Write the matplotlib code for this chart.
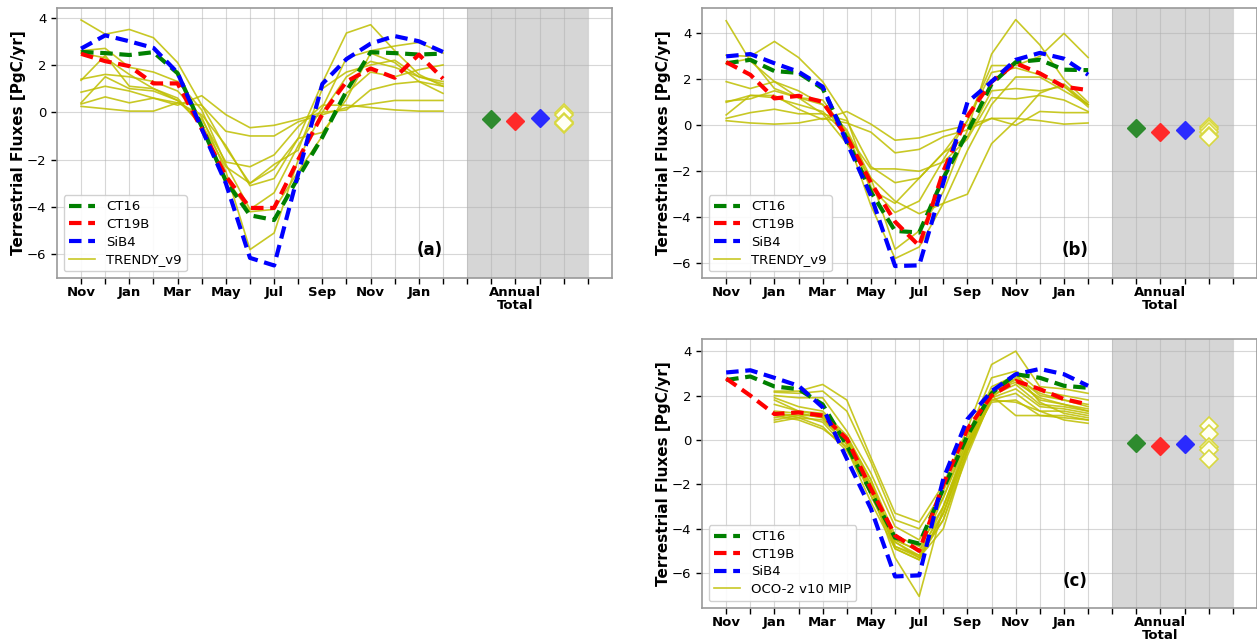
import numpy as np
import matplotlib
matplotlib.use("Agg")
import matplotlib.pyplot as plt

nan = np.nan
months = np.arange(16)
tick_labels = ['Nov', '', 'Jan', '', 'Mar', '', 'May', '', 'Jul', '', 'Sep', '',
               'Nov', '', 'Jan', '', '', '', 'Annual\nTotal', '', '', '']

# ---- panel (a) ----
ct16_a = [2.55, 2.5, 2.42, 2.54, 1.65, -0.6, -2.9, -4.35, -4.55, -2.75, -1.05, 0.9, 2.54, 2.5, 2.44, 2.48]
ct19b_a = [2.47, 2.16, 1.95, 1.22, 1.22, -0.7, -2.7, -4.04, -4.04, -2.0, -0.08, 1.3, 1.85, 1.46, 2.44, 1.42]
sib4_a = [2.69, 3.25, 3.0, 2.72, 1.67, -0.7, -3.0, -6.15, -6.47, -2.6, 1.2, 2.25, 2.9, 3.22, 3.0, 2.55]
trendy_a = [
    [3.9, 3.3, 3.5, 3.15, 2.1, 0.3, -1.5, -3.0, -2.4, -1.1, 1.25, 3.35, 3.7, 2.6, 1.6, 1.1],
    [2.6, 2.7, 1.9, 1.7, 1.3, 0.1, -2.2, -4.1, -3.4, -1.4, 0.2, 2.3, 2.6, 2.8, 2.95, 2.5],
    [1.4, 1.6, 1.5, 1.3, 0.9, -0.2, -2.5, -5.8, -5.1, -2.0, 0.0, 1.5, 2.15, 1.9, 1.5, 1.2],
    [1.35, 2.4, 1.1, 1.0, 0.6, -0.6, -2.8, -4.2, -4.1, -2.5, -1.0, 0.8, 1.7, 1.5, 1.8, 2.0],
    [0.85, 1.1, 0.9, 0.6, 0.4, -0.1, -1.4, -3.1, -2.8, -1.1, -0.85, 0.55, 2.5, 2.1, 1.3, 0.8],
    [0.35, 0.65, 0.4, 0.6, 0.3, 0.7, -0.1, -0.65, -0.55, -0.3, 0.0, 0.1, 0.95, 1.2, 1.3, 1.1],
    [0.25, 0.15, 0.05, 0.05, 0.4, 0.3, -0.8, -1.0, -1.0, -0.4, -0.1, 0.2, 0.35, 0.5, 0.5, 0.5],
    [0.4, 1.5, 1.0, 0.9, 0.5, -0.3, -2.1, -2.3, -1.8, -0.6, 0.3, 0.3, 0.2, 0.1, 0.05, 0.05],
    [2.5, 2.3, 1.6, 1.0, 0.5, -0.5, -2.3, -3.0, -2.2, -1.6, 1.0, 1.7, 2.0, 2.2, 1.5, 1.3],
]
annual_a = [-0.27, -0.36, -0.22]
annual_models_a = [-0.05, -0.1, -0.4, -0.5, -0.45]

# ---- panel (b) ----
ct16_b = [2.7, 2.85, 2.36, 2.28, 1.6, -0.6, -2.9, -4.6, -4.67, -2.3, -0.3, 1.8, 2.75, 2.85, 2.42, 2.4]
ct19b_b = [2.75, 2.2, 1.17, 1.28, 1.02, -0.5, -2.5, -4.2, -5.25, -2.0, 0.4, 1.9, 2.7, 2.26, 1.68, 1.53]
sib4_b = [3.0, 3.1, 2.7, 2.33, 1.68, -0.75, -3.07, -6.13, -6.1, -2.5, 1.0, 1.9, 2.85, 3.15, 2.9, 2.2]
trendy_b = [
    [4.55, 2.8, 1.9, 1.5, 0.9, -0.2, -2.3, -5.4, -4.6, -2.9, -0.2, 3.1, 4.6, 3.5, 2.0, 1.0],
    [3.05, 3.0, 3.65, 2.95, 1.9, 0.3, -2.7, -3.8, -3.3, -1.5, 0.2, 2.6, 2.6, 3.0, 4.0, 2.95],
    [1.9, 1.6, 1.9, 1.2, 0.9, -0.5, -3.5, -5.8, -5.3, -3.4, -1.1, 0.9, 2.1, 2.1, 1.5, 0.9],
    [1.05, 1.15, 1.5, 1.2, 0.5, 0.2, -1.8, -2.5, -2.3, -1.2, -0.5, 1.5, 1.6, 1.5, 1.7, 0.8],
    [0.45, 1.3, 1.3, 0.7, 0.25, 0.6, 0.05, -0.65, -0.55, -0.25, 0.0, 0.3, 0.3, 0.2, 0.05, 0.1],
    [0.3, 0.55, 0.7, 0.5, 0.5, -0.8, -2.3, -3.3, -3.85, -3.4, -3.0, -0.8, 0.2, 1.4, 1.8, 0.9],
    [0.2, 0.1, 0.05, 0.1, 0.3, 0.1, -0.3, -1.2, -1.05, -0.5, -0.2, 0.3, 0.0, 0.6, 0.55, 0.55],
    [2.7, 2.9, 1.6, 1.2, 1.1, -0.3, -2.8, -3.4, -2.3, -1.2, 0.2, 2.3, 2.5, 2.2, 1.7, 0.9],
    [1.0, 1.3, 1.2, 0.9, 0.6, -0.4, -1.9, -1.9, -2.0, -1.6, -0.6, 1.2, 1.15, 1.3, 1.1, 0.6],
]
annual_b = [-0.1, -0.28, -0.2]
annual_models_b = [-0.06, -0.15, -0.28, -0.45, -0.5]

# ---- panel (c) ----
ct16_c = [2.7, 2.86, 2.41, 2.29, 1.6, -0.25, -2.35, -4.4, -4.67, -2.2, 0.2, 2.1, 2.96, 2.8, 2.44, 2.35]
ct19b_c = [2.77, 2.0, 1.17, 1.24, 1.1, 0.05, -2.2, -4.3, -5.0, -2.0, 0.5, 2.0, 2.66, 2.29, 1.84, 1.6]
sib4_c = [3.04, 3.14, 2.8, 2.44, 1.47, -0.85, -3.1, -6.15, -6.1, -1.75, 0.94, 2.2, 2.96, 3.2, 2.96, 2.44]
oco2_c = [
    [nan, nan, 2.2, 2.2, 2.5, 1.8, -0.8, -3.3, -3.7, -2.0, 0.5, 3.4, 4.0, 2.4, 2.3, 2.1],
    [nan, nan, 2.15, 2.1, 2.2, 1.3, -1.0, -3.6, -4.0, -2.3, 0.2, 2.8, 3.1, 2.2, 2.0, 1.8],
    [nan, nan, 2.0, 1.9, 1.9, 0.4, -1.5, -3.9, -4.5, -2.6, 0.0, 2.4, 2.9, 2.0, 1.8, 1.6],
    [nan, nan, 1.9, 1.5, 1.3, 0.2, -1.8, -4.3, -4.8, -3.0, -0.2, 2.2, 2.7, 1.8, 1.6, 1.4],
    [nan, nan, 1.8, 1.3, 1.2, 0.1, -2.0, -4.5, -5.0, -3.3, -0.5, 2.0, 2.5, 1.6, 1.5, 1.3],
    [nan, nan, 1.6, 1.3, 1.1, 0.0, -2.2, -4.6, -5.2, -3.6, -0.7, 1.9, 2.3, 1.5, 1.4, 1.2],
    [nan, nan, 1.3, 1.2, 1.0, -0.2, -2.5, -4.8, -5.3, -4.0, -0.5, 1.8, 2.1, 1.3, 1.3, 1.1],
    [nan, nan, 1.2, 1.1, 0.8, -0.4, -2.8, -4.9, -5.4, -3.3, -0.2, 1.7, 1.8, 1.1, 1.1, 0.9],
    [nan, nan, 1.2, 1.0, 0.6, -0.5, -2.2, -5.3, -7.05, -3.0, 0.0, 1.8, 1.7, 1.3, 0.9, 0.75],
    [nan, nan, 1.1, 0.9, 0.5, -0.3, -2.0, -4.5, -5.0, -2.6, 0.2, 2.0, 1.1, 1.1, 1.0, 0.9],
    [nan, nan, 1.0, 1.2, 1.0, 0.1, -1.8, -4.8, -5.2, -3.0, -0.3, 2.2, 2.6, 1.9, 1.6, 1.3],
    [nan, nan, 0.9, 1.1, 1.1, 0.0, -2.5, -4.6, -5.3, -3.6, -0.4, 1.9, 2.8, 2.1, 1.8, 1.5],
    [nan, nan, 0.8, 1.0, 0.9, -0.2, -2.2, -4.9, -5.4, -3.3, -0.2, 2.1, 3.0, 1.7, 1.2, 1.0],
]
annual_c = [-0.12, -0.27, -0.18]
annual_models_c = [0.63, 0.25, -0.3, -0.45, -0.87]

panels = [
    ('(a)', [0.0453, 0.5663, 0.4415, 0.421], (-7.0, 4.4), ct16_a, ct19b_a, sib4_a, trendy_a, 'TRENDY_v9', annual_a, annual_models_a),
    ('(b)', [0.5585, 0.5663, 0.4415, 0.421], (-6.65, 5.1), ct16_b, ct19b_b, sib4_b, trendy_b, 'TRENDY_v9', annual_b, annual_models_b),
    ('(c)', [0.5585, 0.0515, 0.4415, 0.4197], (-7.57, 4.55), ct16_c, ct19b_c, sib4_c, oco2_c, 'OCO-2 v10 MIP', annual_c, annual_models_c),
]

fig = plt.figure(figsize=(12.57, 6.41), dpi=100)

for tag, rect, ylim, ct16, ct19b, sib4, models, mlabel, annual, annual_m in panels:
    ax = fig.add_axes(rect)
    ax.axvspan(16, 21, color='#d6d6d6', zorder=0, lw=0)
    ax.set_axisbelow(True)
    ax.grid(True, color='#b0b0b0', alpha=0.5, lw=0.8)

    for i, m in enumerate(models):
        ax.plot(months, m, color='y', lw=1.2, alpha=0.85, zorder=2,
                label=mlabel if i == 0 else None)
    ax.plot(months, ct16, color='green', ls='--', lw=3, dashes=(3, 1.6), zorder=3, label='CT16')
    ax.plot(months, ct19b, color='red', ls='--', lw=3, dashes=(3, 1.6), zorder=3, label='CT19B')
    ax.plot(months, sib4, color='blue', ls='--', lw=3, dashes=(3, 1.6), zorder=3, label='SiB4')

    ax.plot(17, annual[0], 'D', color='#2e8b2e', ms=9, zorder=4)
    ax.plot(18, annual[1], 'D', color='#ff2a2a', ms=9, zorder=4)
    ax.plot(19, annual[2], 'D', color='#2a2aff', ms=9, zorder=4)
    ax.plot([20] * len(annual_m), annual_m, 'D', mfc='#fffff4', mec='#d8d840', ms=9, mew=1.2,
            ls='none', zorder=4)

    handles, labels = ax.get_legend_handles_labels()
    order = [1, 2, 3, 0]
    ax.legend([handles[k] for k in order], [labels[k] for k in order],
              loc='lower left', fontsize=9.5, framealpha=0.9, handlelength=2.0,
              labelspacing=0.35, borderpad=0.4)

    ax.text(14.45, ylim[0] + 1.2, tag, fontsize=12, fontweight='bold', ha='center', va='center')

    ax.set_xlim(-1, 22)
    ax.set_ylim(*ylim)
    ax.set_xticks(np.arange(22))
    ax.set_xticklabels(tick_labels, fontweight='bold', fontsize=9.5, linespacing=0.95)
    ax.set_yticks([-6, -4, -2, 0, 2, 4])
    ax.set_yticklabels(['\u22126', '\u22124', '\u22122', '0', '2', '4'], fontsize=9.5)
    ax.set_ylabel('Terrestrial Fluxes [PgC/yr]', fontweight='bold', fontsize=11, labelpad=1)
    ax.tick_params(axis='both', length=4, width=1)
    ax.tick_params(axis='x', pad=2)
    for s in ax.spines.values():
        s.set_color('#999999')
        s.set_linewidth(1.2)

fig.savefig('out.png', dpi=100)
